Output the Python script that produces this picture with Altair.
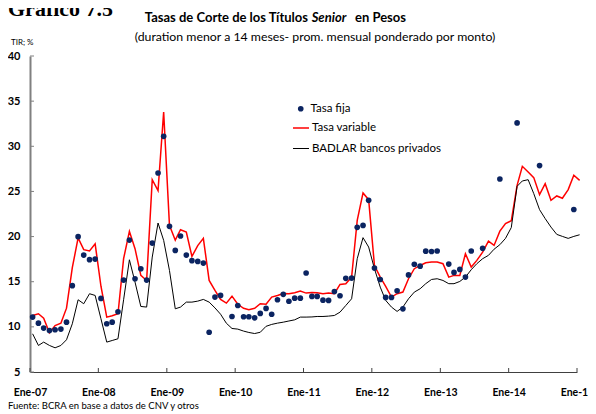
import altair as alt
import pandas as pd

# ---------------- data ----------------
start_year, start_month = 2007, 1
n_months = 97

tasa_variable = [
    11.26, 11.45, 10.97, 9.35, 10.15, 10.4, 12.07, 16.55, 19.85, 18.55, 18.4, 19.2,
    14.5, 11.08, 11.23, 11.45, 17.55, 20.58, 18.66, 15.7, 15.14, 26.3, 25.1, 33.8,
    21.24, 19.6, 20.76, 20.5, 17.8, 19.0, 19.8, 15.14, 14.04, 13.04, 12.63, 13.4,
    12.5, 12.05, 11.9, 12.05, 12.56, 12.5, 13.3, 13.48, 13.7, 13.66, 13.77, 13.96,
    13.74, 13.8, 13.78, 13.67, 13.74, 13.67, 14.7, 14.78, 15.51, 21.8, 24.83, 24.09,
    16.8, 15.5, 14.48, 13.3, 13.67, 13.85, 15.33, 16.44, 16.8, 17.1, 17.17, 17.17,
    17.0, 15.51, 15.7, 15.7, 18.1, 16.62, 17.36, 18.28, 19.5, 19.02, 20.6, 21.45,
    21.75, 25.68, 27.78, 27.15, 26.53, 24.64, 25.86, 24.01, 24.5, 24.24, 25.2, 26.79,
    26.23,
]

badlar = [
    9.23, 7.94, 8.31, 7.94, 7.68, 7.94, 8.57, 10.34, 13.0, 12.56, 13.67, 13.48,
    10.9, 8.31, 8.49, 8.68, 13.0, 17.43, 14.96, 12.26, 12.19, 17.73, 21.5, 19.58,
    16.25, 12.0, 12.19, 12.74, 12.74, 12.85, 13.04, 12.74, 12.1, 11.4, 10.4, 9.82,
    9.75, 9.53, 9.38, 9.26, 9.4, 10.06, 10.27, 10.41, 10.52, 10.65, 10.78, 11.08,
    11.08, 11.1, 11.15, 11.15, 11.19, 11.26, 11.63, 12.37, 13.11, 17.55, 19.88, 18.84,
    16.44, 14.4, 12.93, 12.19, 11.71, 12.19, 13.11, 13.85, 14.22, 14.78, 15.25, 15.33,
    15.14, 14.78, 14.78, 15.03, 15.51, 16.33, 17.0, 17.55, 17.92, 18.6, 19.1, 19.8,
    21.0, 25.57, 26.16, 26.3, 24.76, 22.98, 21.99, 21.05, 20.24, 20.02, 19.8, 20.02,
    20.2,
]

tasa_fija = [
    11.08, 10.41, 9.86, 9.6, 9.68, 9.75, 10.52, 14.56, 19.99, 17.95, 17.44, 17.51,
    13.15, 10.34, 10.52, 11.67, 15.18, 19.61, 15.33, 16.44, 15.18, 19.28, 27.04, 31.1,
    21.13, 18.47, 20.06, 17.95, 17.33, 17.25, 17.06, 9.4, 13.3, 13.48, None, 11.15,
    12.37, 11.12, 11.12, 11.0, 11.49, 12.04, 11.4, 13.0, 13.6, 12.84, 13.18, 13.18,
    15.97, 13.37, 13.37, 12.96, 12.93, 13.92, 13.45, 15.37, 15.4, 21.02, 21.24, 24.01,
    16.51, 15.25, 13.26, 13.26, 14.0, 12.0, 15.75, 16.93, 16.72, 18.38, 18.35, 18.4,
    None, 16.95, 16.03, 16.36, 15.51, 18.4, None, 18.7, None, None, 26.38, None,
    None, 32.59, None, None, None, 27.86, None, None, None, None, None, 23.0,
    None,
]

series_names = ["Tasa fija", "Tasa variable", "BADLAR bancos privados"]
y_ticks = [5, 10, 15, 20, 25, 30, 35, 40]
x_tick_years = list(range(2007, 2016))

# ---------------- tables ----------------
dates = [f"{start_year + (start_month - 1 + i) // 12}-{(start_month - 1 + i) % 12 + 1:02d}-15"
         for i in range(n_months)]

lines_df = pd.DataFrame(
    {"fecha": dates * 2,
     "valor": tasa_variable + badlar,
     "serie": [series_names[1]] * n_months + [series_names[2]] * n_months}
)
points_df = pd.DataFrame({"fecha": dates, "valor": tasa_fija, "serie": series_names[0]}).dropna()
ytick_df = pd.DataFrame({"fecha": ["2007-01-01"] * len(y_ticks), "valor": y_ticks})
xtick_df = pd.DataFrame({"fecha": [f"{y}-01-01" for y in x_tick_years], "valor": [5] * len(x_tick_years)})

FONT = "Lato"
W, H = 547, 316

xscale = alt.Scale(type="utc",
                   domain=[alt.DateTime(year=2007, month=1, date=1, utc=True),
                           alt.DateTime(year=2015, month=1, date=1, utc=True)])
yscale = alt.Scale(domain=[5, 40], nice=False, zero=False)

x_axis = alt.Axis(
    values=[alt.DateTime(year=y, month=1, date=1, utc=True) for y in x_tick_years],
    labelExpr="'Ene-' + utcFormat(datum.value, '%y')",
    title=None, grid=False, ticks=False, tickSize=0, labelPadding=15,
    labelFont=FONT, labelFontSize=10.5, labelFontWeight="bold", labelColor="black",
    domainColor="#404040", domainWidth=1, labelFlush=False, labelOverlap=False,
)
y_axis = alt.Axis(
    values=y_ticks, title=None, grid=False, ticks=False, tickSize=0, labelPadding=10,
    labelFont=FONT, labelFontSize=11, labelFontWeight="bold", labelColor="black",
    domainColor="#808080", domainWidth=2,
)

X = alt.X("fecha:T", scale=xscale, axis=x_axis, title=None)
Y = alt.Y("valor:Q", scale=yscale, axis=y_axis, title=None)

lines = alt.Chart(lines_df).mark_line(interpolate="linear").encode(
    x=X, y=Y,
    stroke=alt.Stroke(
        "serie:N",
        scale=alt.Scale(domain=series_names[1:], range=["#ff0000", "#000000"]),
        legend=alt.Legend(title=None, orient="none", legendX=262, legendY=63,
                          symbolType="stroke", symbolSize=256, symbolStrokeWidth=1.4,
                          labelFont=FONT, labelFontSize=11.5, labelColor="black",
                          labelOffset=2, rowPadding=6, padding=0),
    ),
    strokeWidth=alt.StrokeWidth(
        "serie:N", scale=alt.Scale(domain=series_names[1:], range=[1.5, 1.0]), legend=None),
    order=alt.Order("fecha:T"),
)

points = alt.Chart(points_df).mark_circle(size=32, opacity=1).encode(
    x=X, y=Y,
    fill=alt.Fill(
        "serie:N",
        scale=alt.Scale(domain=series_names[:1], range=["#0b2461"]),
        legend=alt.Legend(title=None, orient="none", legendX=265, legendY=47,
                          symbolType="circle", symbolSize=32,
                          labelFont=FONT, labelFontSize=11.5, labelColor="black",
                          labelOffset=4, padding=0),
    ),
)

yticks = alt.Chart(ytick_df).mark_rule(color="#808080", strokeWidth=1).encode(
    y=Y, x=alt.value(0), x2=alt.value(4)
)
xticks = alt.Chart(xtick_df).mark_rule(color="#404040", strokeWidth=1).encode(
    x=X, y=alt.value(H), y2=alt.value(H - 4)
)


def label(text, x, y, size, weight="normal", align="left", style="normal", font=FONT):
    return alt.Chart(pd.DataFrame({"t": [text]})).mark_text(
        align=align, baseline="alphabetic", font=font, fontSize=size,
        fontWeight=weight, fontStyle=style, color="black",
    ).encode(text="t:N", x=alt.value(x), y=alt.value(y))


texts = [
    label("Gráfico 7.5", -22, -40, 22, "bold", font="Liberation Serif"),
    label("Tasas de Corte de los Títulos", 278, -34.5, 13, "bold", "right"),
    label("Senior", 299, -34.5, 13, "bold", "center", "italic"),
    label("en Pesos", 325, -34.5, 13, "bold"),
    label("(duration menor a 14 meses-  prom. mensual ponderado por monto)", 285, -15.5, 12.3, align="center"),
    label("TIR; %", -19, -11, 8),
    label("Fuente: BCRA en base a datos de CNV y otros", -22, 352.5, 9.5),
]

chart = alt.layer(xticks, yticks, lines, points, *texts).properties(
    width=W, height=H,
    autosize=alt.AutoSizeParams(type="none"),
    padding={"left": 22, "top": 48, "right": 11, "bottom": 40},
).configure_view(stroke=None)

chart.save("out.html", embed_options={"renderer": "svg", "actions": False})
